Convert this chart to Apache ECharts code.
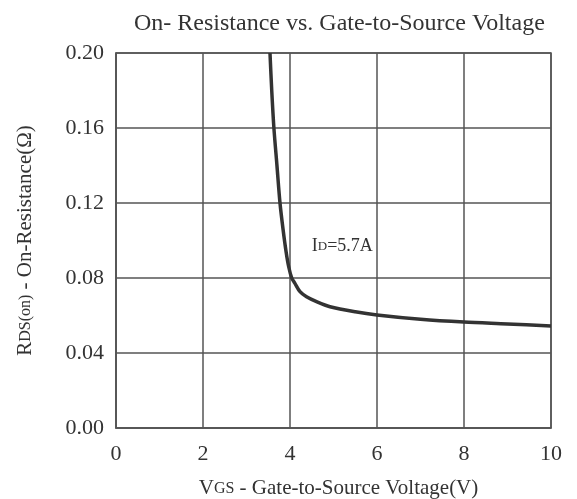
<!DOCTYPE html>
<html>
<head>
<meta charset="utf-8">
<script src="https://cdn.jsdelivr.net/npm/echarts@6/dist/echarts.min.js"></script>
<style>
	html, body { margin: 0; padding: 0; background: #fff; }
	#main { width: 577px; height: 499px; }
</style>
</head>
<body>
<div id="main"></div>
<script>
// values (Id = 5.7A)
var vgs = [3.54, 3.58, 3.63, 3.70, 3.77, 3.84, 3.91, 3.97, 4.04, 4.11, 4.23, 4.38, 4.61, 4.92, 5.50, 6.00, 7.00, 8.00, 9.00, 10.00];
var rdsOn = [0.200, 0.180, 0.160, 0.140, 0.120, 0.106, 0.094, 0.086, 0.080, 0.0773, 0.0727, 0.070, 0.0674, 0.0647, 0.0620, 0.0603, 0.0580, 0.0565, 0.0555, 0.0544];
var xTicks = [0, 2, 4, 6, 8, 10];
var yTicks = [0.00, 0.04, 0.08, 0.12, 0.16, 0.20];
var notePos = [4.5, 0.097];

var serif = '"Liberation Serif", "DejaVu Serif", serif';
var points = [];
for (var i = 0; i < vgs.length; i++) {
	points.push([vgs[i], rdsOn[i]]);
}

var myChart = echarts.init(document.getElementById('main'));
var option = {
	animation : false,
	title : {
		text : 'On- Resistance vs. Gate-to-Source Voltage',
		left : 129,
		top : 7,
		textStyle : {
			fontFamily : serif,
			fontWeight : 'normal',
			fontSize : 24,
			color : '#333'
		}
	},
	grid : {
		left : 116,
		top : 53,
		width : 435,
		height : 375,
		outerBoundsMode : 'none',
		containLabel : false,
		show : true,
		borderColor : '#555',
		borderWidth : 1.5
	},
	xAxis : {
		type : 'value',
		min : xTicks[0],
		max : xTicks[xTicks.length - 1],
		interval : 2,
		name : '{a|V}{b|GS}{a| - Gate-to-Source Voltage(V)}',
		nameLocation : 'middle',
		nameGap : 50,
		nameTextStyle : {
			fontFamily : serif,
			color : '#333',
			padding : [0, 0, 0, 10],
			rich : {
				a : { fontFamily : serif, fontSize : 21, color : '#333' },
				b : { fontFamily : serif, fontSize : 16, color : '#333' }
			}
		},
		axisLine : { show : true, lineStyle : { color : '#555', width : 1.5 } },
		axisTick : { show : false },
		splitLine : { show : true, lineStyle : { color : '#555', width : 1.5 } },
		axisLabel : {
			margin : 15,
			fontFamily : serif,
			fontSize : 22,
			color : '#333'
		}
	},
	yAxis : {
		type : 'value',
		min : yTicks[0],
		max : yTicks[yTicks.length - 1],
		interval : 0.04,
		name : '{a|R}{b|DS(on)}{a| - On-Resistance(\u03A9)}',
		nameLocation : 'middle',
		nameGap : 80,
		nameTextStyle : {
			fontFamily : serif,
			color : '#333',
			rich : {
				a : { fontFamily : serif, fontSize : 21, color : '#333' },
				b : { fontFamily : serif, fontSize : 16, color : '#333' }
			}
		},
		axisLine : { show : true, lineStyle : { color : '#555', width : 1.5 } },
		axisTick : { show : false },
		splitLine : { show : true, lineStyle : { color : '#555', width : 1.5 } },
		axisLabel : {
			margin : 12,
			fontFamily : serif,
			fontSize : 22,
			color : '#333',
			formatter : function(v) { return v.toFixed(2); }
		}
	},
	series : [ {
		type : 'line',
		data : points,
		smooth : 0.3,
		symbol : 'none',
		lineStyle : { color : '#333', width : 3.5 },
		markPoint : {
			symbol : 'circle',
			symbolSize : 0,
			data : [ { coord : notePos } ],
			label : {
				show : true,
				position : 'right',
				distance : 0,
				formatter : '{a|I}{b|D}{a|=5.7A}',
				rich : {
					a : { fontFamily : serif, fontSize : 18, color : '#333' },
					b : { fontFamily : serif, fontSize : 13, color : '#333' }
				}
			}
		}
	} ]
};
myChart.setOption(option);
</script>
</body>
</html>
